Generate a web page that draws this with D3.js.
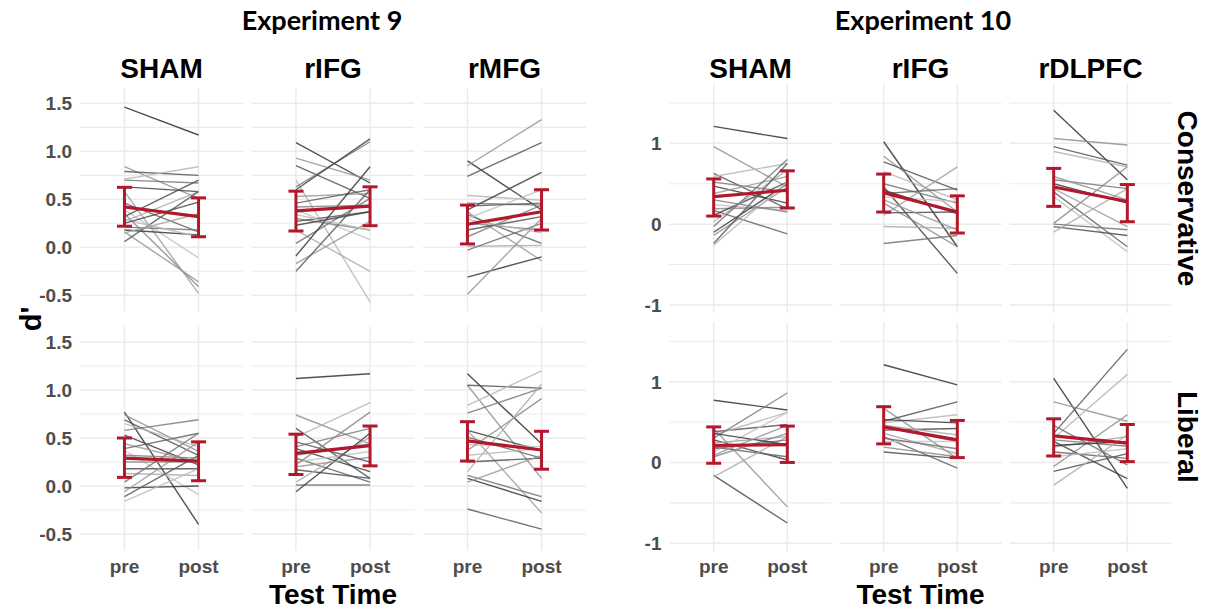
<!DOCTYPE html>
<html>
<head>
<meta charset="utf-8">
<script src="https://cdn.jsdelivr.net/npm/d3@7"></script>
<style>
  body { margin: 0; background: #fff; }
  svg { display: block; }
</style>
</head>
<body>
<svg id="chart" width="1207" height="609"></svg>
<script>
// ---- categories ----
const timeLevels = ["pre", "post"];
const exp9Sites = ["SHAM", "rIFG", "rMFG"];
const exp10Sites = ["SHAM", "rIFG", "rDLPFC"];
const criteria = ["Conservative", "Liberal"];

// ---- tick values ----
const exp9MajorTicks = [-0.5, 0, 0.5, 1, 1.5];
const exp9MinorTicks = [-0.25, 0.25, 0.75, 1.25];
const exp9TickLabels = ["-0.5", "0.0", "0.5", "1.0", "1.5"];
const exp10MajorTicks = [-1, 0, 1];
const exp10MinorTicks = [-0.5, 0.5, 1.5];
const exp10TickLabels = ["-1", "0", "1"];

// ---- individual participants, d' at pre and post ----
// Experiment 9, conservative criterion
const e9ShamConsPre  = [1.46, 0.84, 0.79, 0.71, 0.70, 0.63, 0.58, 0.46, 0.39, 0.35, 0.32, 0.27, 0.21, 0.18, 0.16, 0.06, 0.29, 0.43, 0.25, 0.15];
const e9ShamConsPost = [1.17, 0.51, 0.75, 0.84, 0.67, 0.58, -0.48, 0.16, -0.11, -0.41, 0.70, 0.58, 0.18, 0.13, -0.36, 0.58, 0.11, 0.32, 0.47, 0.35];
const e9IfgConsPre   = [1.09, 0.93, 0.85, 0.70, 0.63, 0.60, 0.53, 0.46, 0.39, 0.30, 0.27, 0.18, 0.04, -0.09, -0.17, -0.25, 0.34, 0.42, 0.23];
const e9IfgConsPost  = [0.67, 0.70, 0.51, -0.57, 1.10, 1.13, 0.56, 0.60, 0.08, 0.18, 0.37, -0.25, 0.51, 0.84, 0.27, 0.60, 0.18, 0.44, 0.37];
const e9MfgConsPre   = [0.90, 0.85, 0.74, 0.54, 0.46, 0.39, 0.37, 0.34, 0.30, 0.25, 0.18, 0.01, -0.03, -0.31, -0.49, 0.43, 0.29, 0.11];
const e9MfgConsPost  = [0.39, 1.33, 1.09, 0.49, 0.44, 0.78, -0.14, 0.04, 0.60, 0.18, 0.32, 0.02, 0.25, -0.10, 0.30, 0.46, 0.15, 0.44];
// Experiment 9, liberal criterion
const e9ShamLibPre   = [0.77, 0.74, 0.69, 0.65, 0.58, 0.53, 0.44, 0.39, 0.37, 0.25, 0.18, 0.13, 0.04, -0.02, -0.06, -0.11, -0.16, 0.32];
const e9ShamLibPost  = [-0.40, 0.36, 0.32, 0.41, 0.69, 0.22, 0.25, 0.55, -0.09, 0.25, 0.18, 0.11, 0.55, 0.00, 0.46, 0.32, 0.18, 0.29];
const e9IfgLibPre    = [1.12, 0.74, 0.60, 0.51, 0.41, 0.39, 0.32, 0.29, 0.25, 0.22, 0.17, 0.04, 0.01, -0.06, 0.20, 0.46];
const e9IfgLibPost   = [1.17, 0.44, 0.08, 0.87, 0.60, 0.15, 0.44, 0.04, 0.36, 0.77, 0.08, 0.51, 0.01, 0.55, 0.30, 0.25];
const e9MfgLibPre    = [1.17, 1.05, 1.05, 0.84, 0.76, 0.58, 0.58, 0.51, 0.43, 0.37, 0.25, 0.15, 0.11, 0.08, 0.04, -0.24, 0.32];
const e9MfgLibPost   = [0.44, 0.08, 1.02, 1.20, 1.02, 0.37, -0.28, 0.29, 0.41, 0.91, 0.29, 1.06, -0.11, -0.16, 0.32, -0.45, 0.39];
// Experiment 10, conservative criterion
const e10ShamConsPre  = [1.21, 0.96, 0.63, 0.59, 0.52, 0.47, 0.38, 0.17, 0.24, 0.19, 0.11, 0.03, -0.03, -0.10, -0.14, -0.24, -0.26, 0.30];
const e10ShamConsPost = [1.06, 0.46, 0.19, 0.75, 0.40, 0.26, 0.59, -0.12, 0.17, 0.21, 0.52, 0.67, 0.80, 0.50, 0.46, 0.75, 0.52, 0.15];
const e10IfgConsPre   = [1.02, 0.84, 0.77, 0.65, 0.50, 0.46, 0.11, 0.38, 0.34, 0.26, 0.14, -0.03, -0.24, 0.42, 0.30];
const e10IfgConsPost  = [-0.28, 0.15, 0.42, 0.30, 0.26, -0.61, 0.71, 0.44, 0.28, -0.28, 0.15, -0.05, -0.14, 0.13, -0.07];
const e10DlpfcConsPre  = [1.41, 1.06, 0.96, 0.90, 0.55, 0.50, 0.44, 0.40, 0.34, 0.01, -0.03, -0.10, 0.00, 0.46, 0.59];
const e10DlpfcConsPost = [0.55, 0.98, 0.73, 0.71, 0.44, 0.26, -0.03, -0.28, -0.34, 0.71, -0.14, 0.44, -0.07, 0.28, 0.30];
// Experiment 10, liberal criterion
const e10ShamLibPre   = [0.77, 0.42, 0.38, 0.34, 0.30, 0.28, 0.24, 0.19, 0.13, 0.07, -0.16, -0.18, 0.17, 0.36, 0.09];
const e10ShamLibPost  = [0.65, -0.55, 0.47, 0.62, 0.86, 0.03, 0.32, 0.07, 0.62, 0.36, -0.75, 0.32, 0.28, 0.22, 0.46];
const e10IfgLibPre    = [1.21, 0.67, 0.51, 0.49, 0.44, 0.40, 0.36, 0.32, 0.26, 0.19, 0.13, 0.46, 0.30, 0.53];
const e10IfgLibPost   = [0.96, 0.05, 0.75, 0.59, 0.26, 0.42, 0.11, -0.07, 0.26, 0.07, 0.05, 0.34, 0.17, 0.49];
const e10DlpfcLibPre  = [1.04, 0.75, 0.36, 0.30, 0.28, 0.26, 0.19, 0.13, 0.07, -0.05, -0.11, -0.28, 0.46, 0.21];
const e10DlpfcLibPost = [-0.32, 0.51, 1.40, 1.09, 0.20, -0.20, 0.32, 0.05, 0.17, 0.59, 0.11, 0.34, -0.03, 0.26];

// ---- group means with interval bounds, per site as [pre, post] ----
const e9ConsMean   = [[0.42, 0.32], [0.38, 0.43], [0.24, 0.37]];
const e9ConsLower  = [[0.22, 0.11], [0.17, 0.225], [0.035, 0.18]];
const e9ConsUpper  = [[0.625, 0.515], [0.585, 0.63], [0.44, 0.60]];
const e9LibMean    = [[0.29, 0.26], [0.34, 0.42], [0.47, 0.375]];
const e9LibLower   = [[0.09, 0.055], [0.12, 0.21], [0.26, 0.175]];
const e9LibUpper   = [[0.50, 0.46], [0.54, 0.625], [0.67, 0.57]];
const e10ConsMean  = [[0.34, 0.42], [0.39, 0.15], [0.46, 0.28]];
const e10ConsLower = [[0.10, 0.20], [0.15, -0.11], [0.22, 0.03]];
const e10ConsUpper = [[0.56, 0.66], [0.62, 0.35], [0.69, 0.49]];
const e10LibMean   = [[0.21, 0.22], [0.44, 0.28], [0.33, 0.24]];
const e10LibLower  = [[-0.01, 0.00], [0.23, 0.06], [0.08, 0.01]];
const e10LibUpper  = [[0.44, 0.45], [0.69, 0.52], [0.54, 0.47]];

// ---- drawing ----
const svg = d3.select("#chart");
const SANS = "'Liberation Sans', Arial, Helvetica, sans-serif";
const RED = "#b2182b";
const GRID = "#ebebeb";
const TICK_GREY = "#4d4d4d";

function subjectShade(i) {
  // spread participants over a grey ramp so neighbours differ in tone
  const t = (i * 0.618034) % 1;
  return d3.interpolateRgb("#333333", "#cccccc")(t);
}

function drawFigure(fig) {
  const g = svg.append("g");

  fig.rows.forEach((row, ri) => {
    const y = d3.scaleLinear().domain(fig.yDomain).range(row.range);

    fig.sites.forEach((site, si) => {
      const left = fig.panelLeft[si];
      const right = left + fig.panelWidth;
      const x = d3.scalePoint().domain(timeLevels).range([left, right]).padding(0.6);
      const p = g.append("g");

      // grid
      p.selectAll("line.minor").data(fig.minorTicks).join("line")
        .attr("x1", left).attr("x2", right)
        .attr("y1", d => y(d)).attr("y2", d => y(d))
        .attr("stroke", GRID).attr("stroke-width", 1.1);
      p.selectAll("line.major").data(fig.majorTicks).join("line")
        .attr("x1", left).attr("x2", right)
        .attr("y1", d => y(d)).attr("y2", d => y(d))
        .attr("stroke", GRID).attr("stroke-width", 1.5);
      p.selectAll("line.vgrid").data(timeLevels).join("line")
        .attr("x1", d => x(d)).attr("x2", d => x(d))
        .attr("y1", row.range[0]).attr("y2", row.range[1])
        .attr("stroke", GRID).attr("stroke-width", 1.5);

      // participants
      const pre = fig.subjects[ri][si][0];
      const post = fig.subjects[ri][si][1];
      const lines = pre.map((v, i) => [v, post[i]]);
      const lineGen = d3.line().x((d, k) => x(timeLevels[k])).y(d => y(d));
      p.selectAll("path.subj").data(lines).join("path")
        .attr("d", d => lineGen(d))
        .attr("fill", "none")
        .attr("stroke", (d, i) => subjectShade(i))
        .attr("stroke-opacity", 0.85)
        .attr("stroke-width", 1.4);

      // group mean and interval
      const mean = fig.mean[ri][si];
      const lower = fig.lower[ri][si];
      const upper = fig.upper[ri][si];
      const cap = 7.5;
      timeLevels.forEach((t, k) => {
        const cx = x(t);
        p.append("line")
          .attr("x1", cx).attr("x2", cx)
          .attr("y1", y(lower[k])).attr("y2", y(upper[k]))
          .attr("stroke", RED).attr("stroke-width", 3);
        [lower[k], upper[k]].forEach(b => {
          p.append("line")
            .attr("x1", cx - cap).attr("x2", cx + cap)
            .attr("y1", y(b)).attr("y2", y(b))
            .attr("stroke", RED).attr("stroke-width", 3);
        });
      });
      p.append("path")
        .attr("d", lineGen(mean))
        .attr("fill", "none")
        .attr("stroke", RED)
        .attr("stroke-width", 3.2);

      // x tick labels on the bottom row
      if (ri === fig.rows.length - 1) {
        p.selectAll("text.xt").data(timeLevels).join("text")
          .attr("x", d => x(d)).attr("y", fig.xTickY)
          .attr("text-anchor", "middle")
          .attr("font-family", SANS).attr("font-weight", "bold")
          .attr("font-size", 19).attr("fill", TICK_GREY)
          .text(d => d);
      }
      // facet strip on the top row
      if (ri === 0) {
        p.append("text")
          .attr("x", (left + right) / 2).attr("y", fig.stripY)
          .attr("text-anchor", "middle")
          .attr("font-family", SANS).attr("font-weight", "bold")
          .attr("font-size", 28).attr("fill", "#000")
          .text(site);
      }
    });

    // y tick labels
    g.selectAll(null).data(fig.majorTicks).join("text")
      .attr("x", fig.panelLeft[0] - 8)
      .attr("y", d => y(d))
      .attr("dy", "0.36em")
      .attr("text-anchor", "end")
      .attr("font-family", SANS).attr("font-weight", "bold")
      .attr("font-size", 19).attr("fill", TICK_GREY)
      .text((d, i) => fig.tickLabels[i]);

    // row strip on the right
    if (fig.showRowStrip) {
      const cy = (row.range[0] + row.range[1]) / 2;
      const sx = fig.panelLeft[fig.panelLeft.length - 1] + fig.panelWidth + 17;
      g.append("text")
        .attr("transform", `translate(${sx},${cy}) rotate(90)`)
        .attr("text-anchor", "middle")
        .attr("dy", "0.36em")
        .attr("font-family", SANS).attr("font-weight", "bold")
        .attr("font-size", 28).attr("fill", "#000")
        .text(criteria[ri]);
    }
  });

  const figLeft = fig.panelLeft[0];
  const figRight = fig.panelLeft[fig.panelLeft.length - 1] + fig.panelWidth;
  const cx = (figLeft + figRight) / 2;

  // experiment title
  g.append("text")
    .attr("x", fig.titleX).attr("y", 30)
    .attr("text-anchor", "middle")
    .attr("font-family", "Lato, 'Open Sans', sans-serif").attr("font-weight", "bold")
    .attr("font-size", 27).attr("fill", "#000")
    .text(fig.title);

  // x axis title
  g.append("text")
    .attr("x", cx).attr("y", 604)
    .attr("text-anchor", "middle")
    .attr("font-family", SANS).attr("font-weight", "bold")
    .attr("font-size", 28).attr("fill", "#000")
    .text("Test Time");
}

drawFigure({
  title: "Experiment 9",
  titleX: 322,
  sites: exp9Sites,
  panelLeft: [80, 251.5, 423],
  panelWidth: 163,
  yDomain: [-0.67, 1.66],
  rows: [{ range: [311.6, 88] }, { range: [550.3, 326.7] }],
  majorTicks: exp9MajorTicks,
  minorTicks: exp9MinorTicks,
  tickLabels: exp9TickLabels,
  xTickY: 573,
  stripY: 78,
  showRowStrip: false,
  subjects: [
    [[e9ShamConsPre, e9ShamConsPost], [e9IfgConsPre, e9IfgConsPost], [e9MfgConsPre, e9MfgConsPost]],
    [[e9ShamLibPre, e9ShamLibPost], [e9IfgLibPre, e9IfgLibPost], [e9MfgLibPre, e9MfgLibPost]]
  ],
  mean: [e9ConsMean, e9LibMean],
  lower: [e9ConsLower, e9LibLower],
  upper: [e9ConsUpper, e9LibUpper]
});

drawFigure({
  title: "Experiment 10",
  titleX: 923,
  sites: exp10Sites,
  panelLeft: [669.5, 839.5, 1009.5],
  panelWidth: 162,
  yDomain: [-1.10, 1.735],
  rows: [{ range: [313, 84] }, { range: [551.3, 322.3] }],
  majorTicks: exp10MajorTicks,
  minorTicks: exp10MinorTicks,
  tickLabels: exp10TickLabels,
  xTickY: 573,
  stripY: 78,
  showRowStrip: true,
  subjects: [
    [[e10ShamConsPre, e10ShamConsPost], [e10IfgConsPre, e10IfgConsPost], [e10DlpfcConsPre, e10DlpfcConsPost]],
    [[e10ShamLibPre, e10ShamLibPost], [e10IfgLibPre, e10IfgLibPost], [e10DlpfcLibPre, e10DlpfcLibPost]]
  ],
  mean: [e10ConsMean, e10LibMean],
  lower: [e10ConsLower, e10LibLower],
  upper: [e10ConsUpper, e10LibUpper]
});

// shared y axis title
svg.append("text")
  .attr("transform", "translate(31,319) rotate(-90)")
  .attr("text-anchor", "middle")
  .attr("dy", "0.36em")
  .attr("font-family", SANS).attr("font-weight", "bold")
  .attr("font-size", 29).attr("fill", "#000")
  .text("d'");
</script>
</body>
</html>
